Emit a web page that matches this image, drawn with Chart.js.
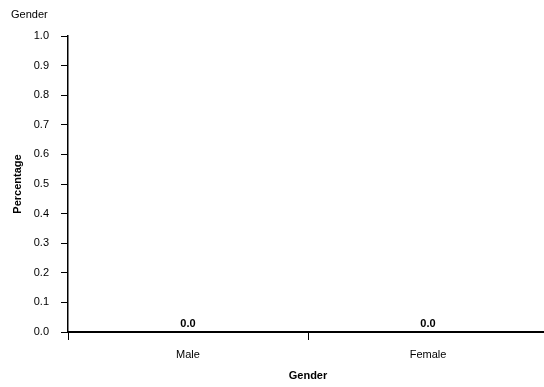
<!DOCTYPE html>
<html>
<head>
<meta charset="utf-8">
<script src="https://cdn.jsdelivr.net/npm/chart.js@4"></script>
<style>
  html, body { margin: 0; padding: 0; background: #fff; overflow: hidden; }
  #wrap { width: 544px; height: 387px; overflow: hidden; }
</style>
</head>
<body>
<div id="wrap"><canvas id="grafico" width="548" height="387"></canvas></div>
<script>
const categorias = ['Male', 'Female'];
const percentuais = [0.0, 0.0];
const tituloGrafico = 'Gender';
const tituloX = 'Gender';
const tituloY = 'Percentage';

const fonte = 'Liberation Sans, Arial, sans-serif';

// desenha o valor em negrito acima de cada barra
const rotulosValor = {
    id: 'rotulosValor',
    afterDatasetsDraw(chart) {
        const ctx = chart.ctx;
        ctx.save();
        ctx.font = 'bold 11px ' + fonte;
        ctx.fillStyle = '#000';
        ctx.textAlign = 'center';
        ctx.textBaseline = 'bottom';
        chart.getDatasetMeta(0).data.forEach((bar, i) => {
            ctx.fillText(percentuais[i].toFixed(1), bar.x, bar.y - 3);
        });
        ctx.restore();
    }
};

const ctx = document.getElementById('grafico').getContext('2d');
window.graficoInstancia = new Chart(ctx, {
    type: 'bar',
    data: {
        labels: categorias,
        datasets: [{
            data: percentuais,
            backgroundColor: '#1f4e9c',
            borderWidth: 0
        }]
    },
    options: {
        responsive: false,
        animation: false,
        layout: { padding: { left: 11, right: 0, top: 0, bottom: 0 } },
        plugins: {
            legend: { display: false },
            tooltip: { enabled: false },
            title: {
                display: true,
                text: tituloGrafico,
                align: 'start',
                color: '#000',
                font: { family: fonte, size: 11, weight: 'normal' },
                padding: { top: 8, bottom: 14.8 }
            }
        },
        scales: {
            x: {
                offset: true,
                afterFit(scale) { scale.height = 55; },
                grid: { offset: true, drawOnChartArea: false, tickLength: 8, color: '#000', lineWidth: 1 },
                border: { color: '#000', width: 2 },
                ticks: { color: '#000', font: { family: fonte, size: 11 }, padding: 8 },
                title: { display: true, text: tituloX, color: '#000', font: { family: fonte, size: 11, weight: 'bold' }, padding: { top: 0, bottom: 4 } }
            },
            y: {
                min: 0,
                max: 1,
                afterFit(scale) { scale.width = 57; },
                grid: { drawOnChartArea: false, tickLength: 7, color: '#000', lineWidth: 1 },
                border: { color: '#000', width: 1.5 },
                ticks: {
                    stepSize: 0.1,
                    color: '#000',
                    padding: 12,
                    font: { family: fonte, size: 11 },
                    callback: v => v.toFixed(1)
                },
                title: { display: true, text: tituloY, color: '#000', font: { family: fonte, size: 11, weight: 'bold' }, padding: 0 }
            }
        }
    },
    plugins: [rotulosValor]
});
</script>
</body>
</html>
